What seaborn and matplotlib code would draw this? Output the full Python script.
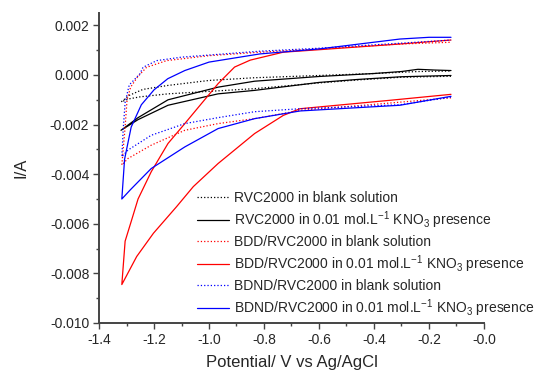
#!/usr/bin/env python3
"""
Cyclic voltammograms of RVC2000, BDD/RVC2000 and BDND/RVC2000 electrodes,
in blank solution and in presence of 0.01 mol/L KNO3.
"""

import numpy as np
import pandas as pd
import matplotlib
matplotlib.use("Agg")
import matplotlib.pyplot as plt
import seaborn as sns

# --- data (V vs Ag/AgCl, A) ----------------------------------------------
# each sweep: cathodic branch -0.12 -> -1.32 V, then anodic branch back to -0.12 V

rvc_blank_v = [-0.12, -0.3, -0.46, -0.6, -0.834, -1.0, -1.149, -1.25, -1.29, -1.319,
               -1.29, -1.24, -1.149, -1.0, -0.834, -0.6, -0.4, -0.24, -0.12]
rvc_blank_i = [-0.00005, -0.00009, -0.0002, -0.00032, -0.00055, -0.00066, -0.00076, -0.00088, -0.00096, -0.00108,
               -0.00082, -0.00058, -0.00042, -0.00022, -0.00011, -0.00002, 0.00006, 0.00014, 0.00016]

rvc_kno3_v = [-0.12, -0.3, -0.46, -0.6, -0.834, -0.967, -1.149, -1.258, -1.32,
              -1.258, -1.149, -0.967, -0.834, -0.6, -0.4, -0.3, -0.24, -0.18, -0.12]
rvc_kno3_i = [-0.00002, -0.00007, -0.00018, -0.0003, -0.00062, -0.00076, -0.00122, -0.0018, -0.00223,
              -0.00172, -0.001, -0.00049, -0.00025, -0.00006, 0.00006, 0.00014, 0.00023, 0.0002, 0.00018]

bdd_blank_v = [-0.12, -0.342, -0.669, -0.834, -0.967, -1.088, -1.21, -1.295, -1.317,
               -1.305, -1.298, -1.285, -1.26, -1.227, -1.154, -1.0, -0.815, -0.6, -0.306, -0.12]
bdd_blank_i = [-0.00092, -0.00113, -0.00143, -0.00176, -0.00196, -0.00223, -0.00283, -0.00337, -0.00363,
               -0.0021, -0.001, -0.00049, -0.00008, 0.00031, 0.00058, 0.00078, 0.00092, 0.00105, 0.00125, 0.00132]

bdd_kno3_v = [-0.12, -0.342, -0.669, -0.73, -0.834, -0.967, -1.057, -1.118, -1.202, -1.263, -1.317,
              -1.305, -1.28, -1.258, -1.21, -1.149, -1.088, -1.028, -0.967, -0.907, -0.85, -0.73, -0.6, -0.306, -0.12]
bdd_kno3_i = [-0.00078, -0.00102, -0.00136, -0.00163, -0.00236, -0.00357, -0.0045, -0.00531, -0.00638, -0.00732, -0.00845,
              -0.0067, -0.0058, -0.005, -0.0039, -0.00276, -0.00196, -0.00116, -0.00035, 0.00032, 0.0006, 0.00092, 0.00102, 0.00125, 0.00141]

bdnd_blank_v = [-0.12, -0.306, -0.669, -0.834, -0.967, -1.088, -1.21, -1.295, -1.317,
                -1.312, -1.305, -1.29, -1.251, -1.24, -1.19, -1.1, -0.815, -0.6, -0.306, -0.12]
bdnd_blank_i = [-0.00089, -0.0012, -0.00136, -0.00148, -0.00172, -0.00196, -0.00243, -0.00303, -0.0033,
                -0.0022, -0.0011, -0.0004, 0.00005, 0.00031, 0.00058, 0.00072, 0.00096, 0.00108, 0.00128, 0.00141]

bdnd_kno3_v = [-0.12, -0.306, -0.669, -0.834, -0.967, -1.088, -1.21, -1.287, -1.317,
               -1.307, -1.283, -1.246, -1.2, -1.15, -1.088, -1.0, -0.815, -0.6, -0.306, -0.2, -0.12]
bdnd_kno3_i = [-0.00086, -0.00122, -0.00145, -0.00176, -0.00216, -0.0029, -0.00377, -0.00464, -0.005,
               -0.0034, -0.0021, -0.0012, -0.0006, -0.00015, 0.00018, 0.00052, 0.00085, 0.00105, 0.00145, 0.00152, 0.00152]

labels = [
    "RVC2000 in blank solution",
    r"RVC2000 in 0.01 mol.L$^{\mathregular{-1}}$ KNO$_{\mathregular{3}}$ presence",
    "BDD/RVC2000 in blank solution",
    r"BDD/RVC2000 in 0.01 mol.L$^{\mathregular{-1}}$ KNO$_{\mathregular{3}}$ presence",
    "BDND/RVC2000 in blank solution",
    r"BDND/RVC2000 in 0.01 mol.L$^{\mathregular{-1}}$ KNO$_{\mathregular{3}}$ presence",
]

curves = [
    (rvc_blank_v, rvc_blank_i, "black", ":"),
    (rvc_kno3_v, rvc_kno3_i, "black", "-"),
    (bdd_blank_v, bdd_blank_i, "red", ":"),
    (bdd_kno3_v, bdd_kno3_i, "red", "-"),
    (bdnd_blank_v, bdnd_blank_i, "blue", ":"),
    (bdnd_kno3_v, bdnd_kno3_i, "blue", "-"),
]

sns.set_style("ticks")
plt.rcParams["font.family"] = ["Liberation Sans", "DejaVu Sans"]
plt.rcParams["mathtext.fontset"] = "custom"
plt.rcParams["mathtext.rm"] = "Liberation Sans"
plt.rcParams["mathtext.default"] = "regular"

fig = plt.figure(figsize=(5.38, 3.74), dpi=100)
ax = fig.add_axes([99 / 538, 1 - 323 / 374, 385 / 538, 310 / 374])

for (v, i, color, ls), label in zip(curves, labels):
    df = pd.DataFrame({"V": v, "I": i})
    sns.lineplot(data=df, x="V", y="I", sort=False, estimator=None, ax=ax,
                 color=color, linestyle=ls, linewidth=0.9, label=label)

ax.set_xlim(-1.4, 0.0)
ax.set_ylim(-0.010, 0.0025)
ax.set_xticks(np.arange(-1.4, 0.01, 0.2))
ax.set_xticks(np.arange(-1.3, 0.0, 0.2), minor=True)
ax.set_yticks(np.arange(-0.010, 0.0021, 0.002))
ax.set_yticks(np.arange(-0.009, 0.0021, 0.002), minor=True)
ax.xaxis.set_major_formatter(matplotlib.ticker.FormatStrFormatter("%.1f"))
ax.yaxis.set_major_formatter(matplotlib.ticker.FormatStrFormatter("%.3f"))

for side in ["top", "right"]:
    ax.spines[side].set_visible(False)
for side in ["left", "bottom"]:
    ax.spines[side].set_linewidth(1.4)
    ax.spines[side].set_color("#444444")
ax.tick_params(which="major", direction="out", length=4, width=1.0, color="#444444",
               labelsize=10, pad=3)
ax.tick_params(which="minor", direction="out", length=2.5, width=1.0, color="#444444")

ax.set_xlabel("Potential/ V vs Ag/AgCl", fontsize=12, labelpad=6)
ax.set_ylabel("I/A", fontsize=12, labelpad=15)

ax.legend(loc="upper left", bbox_to_anchor=(197 / 538, 1 - 191 / 374),
          bbox_transform=fig.transFigure, frameon=False, fontsize=10,
          handlelength=2.3, handletextpad=0.36, labelspacing=0.3,
          borderpad=0, borderaxespad=0)

plt.savefig("out.png", dpi=100)
